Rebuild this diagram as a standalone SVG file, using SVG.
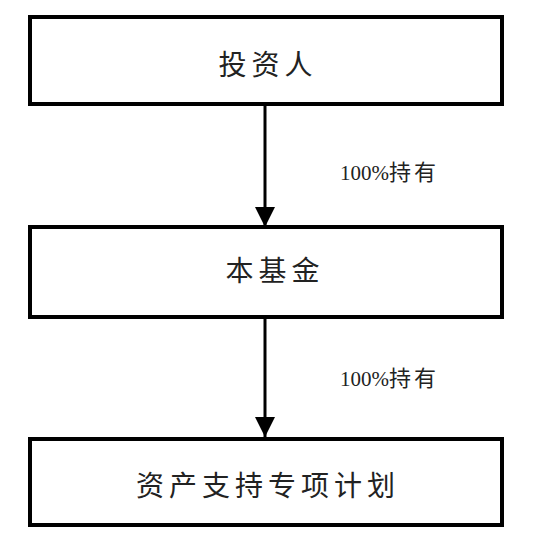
<svg xmlns="http://www.w3.org/2000/svg" width="538" height="540" viewBox="0 0 538 540">
<style>
.box{fill:#fff;stroke:#000;stroke-width:4}
.t{font-family:"Noto Sans CJK SC","Noto Sans",sans-serif;font-size:28px;fill:#222;text-anchor:middle;letter-spacing:5px}
.lbl{fill:#222}
.num{font-family:"Liberation Serif","Noto Sans CJK SC",serif;font-size:21px}
.cjk{font-family:"Noto Sans CJK SC",sans-serif;font-size:22px;letter-spacing:3px}
.c{stroke:#000;stroke-width:3;fill:none}
</style>
<defs>
<marker id="ah" markerWidth="20" markerHeight="20" viewBox="0 0 20 20" refX="20" refY="10" orient="auto" markerUnits="userSpaceOnUse">
<path d="M0,0 L20,10 L0,20 Z" fill="#000"/>
</marker>
</defs>
<rect width="538" height="540" fill="#fff"/>
<g id="connectors">
<line class="c" x1="265" y1="106" x2="265" y2="227" marker-end="url(#ah)"/>
<line class="c" x1="265" y1="318" x2="265" y2="437" marker-end="url(#ah)"/>
<text class="lbl" x="340" y="180"><tspan class="num">100%</tspan><tspan class="cjk">持有</tspan></text>
<text class="lbl" x="340" y="386"><tspan class="num">100%</tspan><tspan class="cjk">持有</tspan></text>
</g>
<g id="n1">
<rect class="box" x="30" y="17" width="472" height="87"/>
<text class="t" x="268" y="75">投资人</text>
</g>
<g id="n2">
<rect class="box" x="30" y="227" width="472" height="90"/>
<text class="t" x="275" y="281">本基金</text>
</g>
<g id="n3">
<rect class="box" x="30" y="439" width="472" height="86"/>
<text class="t" x="268" y="496">资产支持专项计划</text>
</g>
</svg>
